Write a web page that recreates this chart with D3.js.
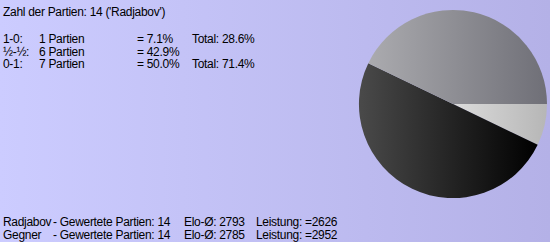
<!DOCTYPE html>
<html>
<head>
<meta charset="utf-8">
<script src="https://cdn.jsdelivr.net/npm/d3@7"></script>
<style>
  body { margin: 0; padding: 0; overflow: hidden; }
  text { font-family: Arial, "Liberation Sans", sans-serif; font-size: 12px; letter-spacing: -0.3px; fill: #000; }
</style>
</head>
<body>
<div id="chart"></div>
<script>
// chart data
var player = "Radjabov";
var results = ["1-0", "½-½", "0-1"];
var games = [1, 6, 7];
var percents = ["7.1%", "42.9%", "50.0%"];
var totals = ["Total: 28.6%", "", "Total: 71.4%"];

// pie order: win, loss, draw (clockwise from 3 o'clock)
var pieKeys = ["1-0", "0-1", "½-½"];
var pieValues = [1, 7, 6];
var pieColors = {
    "1-0": ["#dcdcdc", "#b6b6b6"],
    "0-1": ["#4a4a4a", "#000000"],
    "½-½": ["#ababaf", "#6f6f77"]
};

var statNames = ["Radjabov", "Gegner"];
var statGames = [14, 14];
var statElo = [2793, 2785];
var statPerf = [2626, 2952];

var svgWidth = 550;
var svgHeight = 242;

var svg = d3.select("#chart")
    .append("svg")
    .attr("width", svgWidth)
    .attr("height", svgHeight);

var defs = svg.append("defs");

var bg = defs.append("linearGradient")
    .attr("id", "bg")
    .attr("x1", "0").attr("x2", "1").attr("y1", "0").attr("y2", "0");
bg.append("stop").attr("offset", "0").attr("stop-color", "#ccccff");
bg.append("stop").attr("offset", "1").attr("stop-color", "#b4b1e7");

svg.append("rect")
    .attr("width", svgWidth)
    .attr("height", svgHeight)
    .attr("fill", "url(#bg)");

// title
svg.append("text")
    .attr("x", 3)
    .attr("y", 16)
    .text("Zahl der Partien: " + d3.sum(games) + " ('" + player + "')");

// result rows
var rowY = d3.scaleLinear().domain([0, 1]).range([42.7, 55.5]);

var rows = svg.selectAll(".row")
    .data(results)
    .enter()
    .append("g")
    .attr("class", "row")
    .attr("transform", (d, i) => `translate(0, ${rowY(i)})`);

rows.append("text").attr("x", 3).text(d => d + ":");
rows.append("text").attr("x", 39).text((d, i) => games[i] + " Partien");
rows.append("text").attr("x", 137).text((d, i) => "= " + percents[i]);
rows.append("text").attr("x", 192).text((d, i) => totals[i]);

// pie
var radius = 94;
var pieGroup = svg.append("g")
    .attr("transform", "translate(453, 104)");

var pie = d3.pie()
    .sort(null)
    .startAngle(Math.PI / 2)
    .endAngle(Math.PI / 2 + 2 * Math.PI);

var arc = d3.arc().innerRadius(0).outerRadius(radius);

var arcs = pie(pieValues);

arcs.forEach(function (a, i) {
    var key = pieKeys[i];
    var g = defs.append("linearGradient")
        .attr("id", "slice" + i)
        .attr("x1", "0").attr("x2", "1").attr("y1", "0").attr("y2", "0");
    g.append("stop").attr("offset", "0").attr("stop-color", pieColors[key][0]);
    g.append("stop").attr("offset", "1").attr("stop-color", pieColors[key][1]);
});

pieGroup.selectAll("path")
    .data(arcs)
    .enter()
    .append("path")
    .attr("d", arc)
    .attr("fill", (d, i) => "url(#slice" + i + ")");

// bottom stats
var statY = d3.scaleLinear().domain([0, 1]).range([226, 239]);

var stats = svg.selectAll(".stat")
    .data(statNames)
    .enter()
    .append("g")
    .attr("class", "stat")
    .attr("transform", (d, i) => `translate(0, ${statY(i)})`);

stats.append("text").attr("x", 3).text(d => d);
stats.append("text").attr("x", 53).text((d, i) => "- Gewertete Partien: " + statGames[i]);
stats.append("text").attr("x", 184).text((d, i) => "Elo-Ø: " + statElo[i]);
stats.append("text").attr("x", 256).text((d, i) => "Leistung: =" + statPerf[i]);
</script>
</body>
</html>
